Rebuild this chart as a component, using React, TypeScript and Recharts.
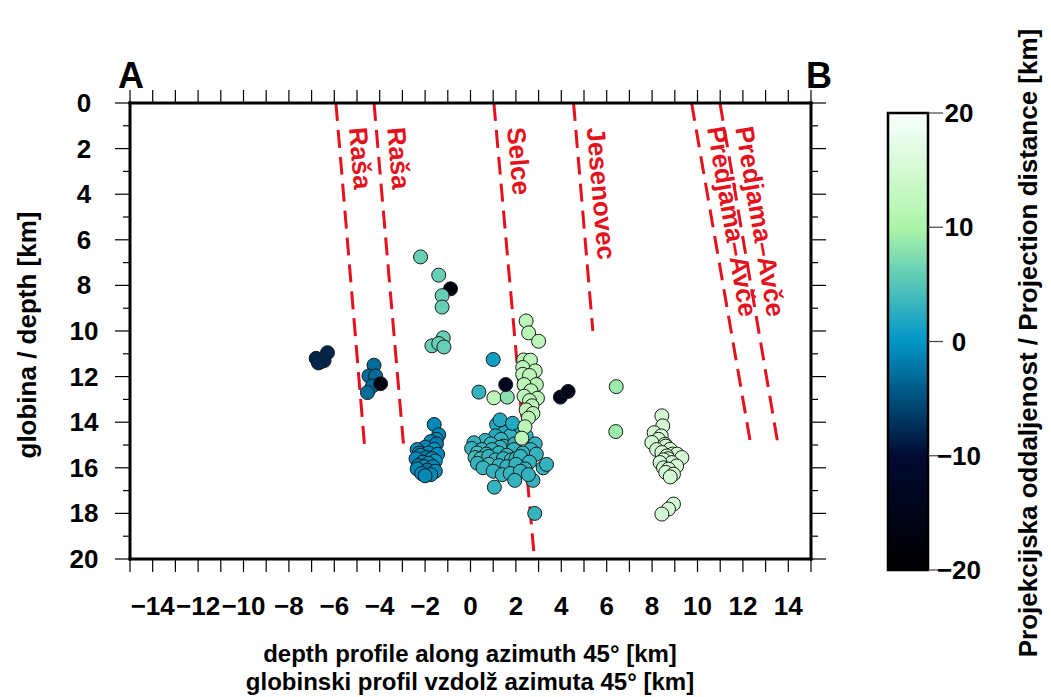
import React from 'react'
import { ScatterChart, Scatter, XAxis, YAxis, ReferenceLine } from 'recharts'

// [distance along profile (km), depth (km), projection distance (km)]
type Ev = [number, number, number]

const profileTicks = [
  -15, -14, -13, -12, -11, -10, -9, -8, -7, -6, -5, -4, -3, -2, -1, 0, 1, 2, 3,
  4, 5, 6, 7, 8, 9, 10, 11, 12, 13, 14, 15,
]
const depthTicks = [
  0, 1, 2, 3, 4, 5, 6, 7, 8, 9, 10, 11, 12, 13, 14, 15, 16, 17, 18, 19, 20,
]
const barTicks = [20, 10, 0, -10, -20]

const westCluster: Ev[] = [
  [-6.8, 11.2, -8], [-6.3, 10.95, -8], [-6.6, 11.35, -9], [-6.45, 11.3, -8], [-6.7, 11.4, -8],
]

const rasaCluster: Ev[] = [
  [-4.25, 11.5, -3], [-4.47, 11.97, -3], [-4.18, 11.97, -3], [-4.32, 12.41, -3],
  [-4.54, 12.7, -3], [-3.96, 12.31, -17],
]

const shallowEvents: Ev[] = [
  [-2.2, 6.75, 6], [-1.4, 7.55, 6], [-0.88, 8.15, -18], [-1.25, 8.45, 6], [-1.25, 8.95, 6],
  [-1.7, 10.65, 6], [-1.2, 10.3, 6], [-1.4, 10.55, 6], [-1.17, 10.7, 6],
]

const westDeep: Ev[] = [
  [-1.6, 14.1, -1], [-1.4, 14.55, -1], [-1.5, 14.75, -1], [-1.75, 14.85, -1], [-1.5, 14.95, -2],
  [-2.0, 15.1, -1], [-2.35, 15.2, -1], [-1.6, 15.2, 0], [-2.25, 15.35, -2], [-1.85, 15.35, -1],
  [-2.2, 15.45, -1], [-1.45, 15.4, -1], [-1.95, 15.55, -2], [-2.4, 15.6, -1], [-1.7, 15.6, -1],
  [-2.1, 15.75, -1], [-1.55, 15.7, 0], [-1.85, 15.8, -1], [-2.3, 15.9, -2], [-2.05, 15.95, -1],
  [-1.65, 15.95, -1], [-2.35, 16.05, -1], [-1.9, 16.1, -2], [-1.55, 16.15, -1], [-2.15, 16.25, -1],
  [-1.75, 16.3, -1], [-2.0, 16.35, -1],
]

const selceDeep: Ev[] = [
  [1.15, 14.1, 2], [1.6, 14.3, 2], [2.05, 14.4, 2], [1.5, 14.45, 2], [1.1, 14.6, 2],
  [1.75, 14.6, 3], [2.45, 14.6, 3], [1.35, 14.75, 3], [0.65, 14.8, 3], [0.15, 14.9, 3],
  [0.9, 14.95, 3], [1.45, 15.05, 3], [2.85, 14.95, 3], [1.95, 14.95, 3], [0.05, 15.15, 3],
  [0.5, 15.2, 3], [1.3, 15.1, 3], [1.9, 15.2, 3], [2.65, 15.2, 3], [0.3, 15.35, 4],
  [0.95, 15.2, 3], [1.25, 15.35, 3], [1.6, 15.45, 3], [2.3, 15.35, 3], [2.9, 15.4, 3],
  [0.7, 15.4, 3], [0.2, 15.55, 4], [0.45, 15.6, 4], [0.8, 15.5, 3], [1.1, 15.65, 3],
  [1.45, 15.6, 3], [1.8, 15.65, 4], [2.0, 15.6, 3], [2.2, 15.5, 3], [2.6, 15.75, 3],
  [3.2, 16.0, 3], [0.3, 15.8, 3], [0.8, 15.85, 4], [1.25, 15.9, 3], [1.6, 15.95, 3],
  [2.0, 15.85, 3], [2.4, 16.05, 3], [0.55, 16.0, 3], [1.0, 16.15, 3], [1.4, 16.3, 3],
  [1.75, 16.25, 3], [2.2, 16.15, 3], [1.95, 16.55, 3], [2.75, 16.55, 3], [1.05, 16.85, 3],
  [1.3, 13.9, 2], [1.85, 14.05, 2], [3.35, 15.85, 3], [2.55, 16.3, 3],
  [2.83, 18.0, 3],
]

const midEvents: Ev[] = [
  [1.0, 11.25, 1], [0.37, 12.68, 3], [1.03, 12.93, 12], [1.62, 12.9, 8], [2.71, 12.12, 1],
]

const selceColumn: Ev[] = [
  [2.45, 9.56, 12], [2.56, 10.08, 12], [3.0, 10.45, 12], [2.34, 11.27, 12], [2.64, 11.28, 12],
  [2.3, 11.6, 12], [2.85, 11.75, 12], [2.3, 11.9, 12], [2.6, 11.95, 12], [2.9, 12.35, 11],
  [2.36, 12.35, 12], [2.66, 12.62, 12], [2.36, 12.86, 12], [2.95, 12.95, 12], [2.6, 13.05, 12],
  [2.71, 13.28, 12], [2.45, 13.46, 12], [2.75, 13.62, 12], [2.55, 13.82, 12], [2.4, 14.2, 12],
  [2.26, 14.7, 12],
]

const avceDeep: Ev[] = [
  [6.42, 12.44, 9], [6.4, 14.41, 9],
  [8.43, 13.72, 15], [8.47, 14.16, 15], [8.09, 14.46, 15], [8.4, 14.6, 15], [8.28, 14.75, 15],
  [7.99, 14.89, 15], [8.57, 14.97, 15], [8.6, 15.05, 15], [8.2, 15.2, 15], [8.79, 15.19, 15],
  [8.43, 15.33, 15], [8.9, 15.4, 15], [9.1, 15.4, 15], [8.65, 15.48, 15], [9.31, 15.55, 15],
  [8.7, 15.6, 15], [8.5, 15.65, 15], [8.87, 15.77, 15], [8.35, 15.77, 15], [9.08, 15.92, 15],
  [8.5, 16.0, 15], [8.72, 16.06, 15], [8.6, 16.2, 15], [8.94, 16.28, 15], [8.8, 16.4, 15],
  [8.94, 17.59, 15], [8.72, 17.81, 15], [8.43, 18.03, 15],
]

const darkEvents: Ev[] = [
  [1.55, 12.35, -14], [3.96, 12.9, -15], [4.3, 12.65, -15],
]

const faults = [
  { name: 'Raša', top: -5.93, bottom: -4.67, depth: 15 },
  { name: 'Raša', top: -4.25, bottom: -2.95, depth: 15 },
  { name: 'Selce', top: 1.03, bottom: 2.8, depth: 19.8 },
  { name: 'Jesenovec', top: 4.54, bottom: 5.39, depth: 10 },
  { name: 'Predjama–Avče', top: 9.74, bottom: 12.35, depth: 15 },
  { name: 'Predjama–Avče', top: 10.99, bottom: 13.55, depth: 15 },
]

// GMT "ocean" palette stretched over -20..20 km
const ocean: [number, number[]][] = [
  [-20, [0, 0, 0]],
  [-15, [0, 5, 25]],
  [-10, [0, 10, 50]],
  [-5, [0, 80, 125]],
  [0, [0, 150, 200]],
  [5, [86, 197, 184]],
  [10, [172, 245, 168]],
  [15, [211, 250, 211]],
  [20, [250, 255, 255]],
]

const oceanColor = (v: number) => {
  for (let i = 0; i < ocean.length - 1; i++) {
    const [a, ca] = ocean[i]
    const [b, cb] = ocean[i + 1]
    if (v <= b || i === ocean.length - 2) {
      const t = Math.max(0, Math.min(1, (v - a) / (b - a)))
      const c = ca.map((k, j) => Math.round(k + (cb[j] - k) * t))
      return `rgb(${c[0]},${c[1]},${c[2]})`
    }
  }
  return '#000'
}

const toPoints = (list: Ev[]) =>
  list.map(([x, depth, dist]) => ({ x, depth, dist }))

const FONT = '"Liberation Sans", Arial, Helvetica, sans-serif'
const RED = '#e3121c'
const fmt = (v: number) => (v < 0 ? `\u2212${Math.abs(v)}` : String(v))

const Quake = (props: any) => {
  const { cx, cy, payload } = props
  if (cx == null || cy == null) return null
  return (
    <circle
      cx={cx}
      cy={cy}
      r={7}
      fill={oceanColor(payload.dist)}
      stroke="#1a1a1a"
      strokeWidth={1}
    />
  )
}

const BottomTick = (props: any) => {
  const { x, y, payload } = props
  const v = payload.value
  return (
    <g>
      <line x1={x} y1={y} x2={x} y2={y + 13} stroke="#000" strokeWidth={1.2} />
      {v % 2 === 0 && (
        <text x={x} y={y + 56} textAnchor="middle" fontSize={26} fontWeight="bold" fontFamily={FONT} fill="#000">
          {fmt(v)}
        </text>
      )}
    </g>
  )
}

const TopTick = (props: any) => {
  const { x, y } = props
  return <line x1={x} y1={y} x2={x} y2={y - 13} stroke="#000" strokeWidth={1.2} />
}

const LeftTick = (props: any) => {
  const { x, y, payload } = props
  const major = payload.value % 2 === 0
  return (
    <g>
      <line x1={x - (major ? 15 : 7)} y1={y} x2={x} y2={y} stroke="#000" strokeWidth={1.2} />
      {major && (
        <text x={x - 46} y={y + 9} textAnchor="middle" fontSize={26} fontWeight="bold" fontFamily={FONT} fill="#000">
          {payload.value}
        </text>
      )}
    </g>
  )
}

const RightTick = (props: any) => {
  const { x, y, payload } = props
  const major = payload.value % 2 === 0
  return <line x1={x} y1={y} x2={x + (major ? 15 : 7)} y2={y} stroke="#000" strokeWidth={1.2} />
}

// fault name written down the trace, just to the right of it
const FaultLabel = (props: any) => {
  const { viewBox, text } = props
  if (!viewBox) return null
  const { x, y, width, height } = viewBox
  const angle = (Math.atan2(height, width) * 180) / Math.PI
  const down = 25
  const lx = x + (width * down) / height + 11
  const ly = y + down
  return (
    <text
      transform={`translate(${lx},${ly}) rotate(${angle})`}
      fill={RED}
      fontSize={26}
      fontWeight="bold"
      fontFamily={FONT}
    >
      {text}
    </text>
  )
}

const frame = { stroke: '#000', strokeWidth: 3, strokeLinecap: 'square' as const }

const series = [
  westCluster,
  rasaCluster,
  shallowEvents,
  westDeep,
  selceDeep,
  midEvents,
  selceColumn,
  avceDeep,
  darkEvents,
]

export default function App() {
  const bar = { x: 888, y: 113, w: 40, h: 457 }
  const barY = (v: number) => bar.y + ((20 - v) / 40) * bar.h
  return (
    <div
      style={{
        position: 'absolute',
        left: 0,
        top: 0,
        width: 1051,
        height: 697,
        background: '#fff',
        fontFamily: FONT,
      }}
    >
      <ScatterChart
        width={1051}
        height={697}
        margin={{ top: 83, right: 220, bottom: 98, left: 70 }}
      >
        <XAxis
          xAxisId="bottom"
          dataKey="x"
          type="number"
          domain={[-15, 15]}
          ticks={profileTicks}
          interval={0}
          height={40}
          tickSize={0}
          tickMargin={0}
          tickLine={false}
          axisLine={frame}
          tick={BottomTick}
          allowDataOverflow
        />
        <XAxis
          xAxisId="top"
          orientation="top"
          dataKey="x"
          type="number"
          domain={[-15, 15]}
          ticks={profileTicks}
          interval={0}
          height={20}
          tickSize={0}
          tickMargin={0}
          tickLine={false}
          axisLine={frame}
          tick={TopTick}
          allowDataOverflow
        />
        <YAxis
          yAxisId="left"
          dataKey="depth"
          type="number"
          reversed
          domain={[0, 20]}
          ticks={depthTicks}
          interval={0}
          width={60}
          tickSize={0}
          tickMargin={0}
          tickLine={false}
          axisLine={frame}
          tick={LeftTick}
          allowDataOverflow
        />
        <YAxis
          yAxisId="right"
          orientation="right"
          dataKey="depth"
          type="number"
          reversed
          domain={[0, 20]}
          ticks={depthTicks}
          interval={0}
          width={20}
          tickSize={0}
          tickMargin={0}
          tickLine={false}
          axisLine={frame}
          tick={RightTick}
          allowDataOverflow
        />
        {series.map((list, i) => (
          <Scatter
            key={i}
            xAxisId="bottom"
            yAxisId="left"
            data={toPoints(list)}
            shape={Quake}
            isAnimationActive={false}
          />
        ))}
        {faults.map((f, i) => (
          <ReferenceLine
            key={i}
            xAxisId="bottom"
            yAxisId="left"
            segment={[
              { x: f.top, y: 0 },
              { x: f.bottom, y: f.depth },
            ]}
            stroke={RED}
            strokeWidth={3}
            strokeDasharray="18 9"
            ifOverflow="visible"
            label={<FaultLabel text={f.name} />}
          />
        ))}
      </ScatterChart>

      <svg
        width={1051}
        height={697}
        style={{ position: 'absolute', left: 0, top: 0, pointerEvents: 'none' }}
        fontFamily={FONT}
        fontWeight="bold"
      >
        <defs>
          <linearGradient id="oceanBar" x1="0" y1="0" x2="0" y2="1">
            {[...ocean].reverse().map(([v]) => (
              <stop key={v} offset={`${((20 - v) / 40) * 100}%`} stopColor={oceanColor(v)} />
            ))}
          </linearGradient>
        </defs>
        <text x={131} y={88} fontSize={36} textAnchor="middle">A</text>
        <text x={819} y={88} fontSize={36} textAnchor="middle">B</text>

        <text transform="translate(36,335) rotate(-90)" fontSize={26} textAnchor="middle">
          globina / depth [km]
        </text>
        <text x={470} y={662} fontSize={24} textAnchor="middle">
          depth profile along azimuth 45° [km]
        </text>
        <text x={470} y={690} fontSize={24} textAnchor="middle">
          globinski profil vzdolž azimuta 45° [km]
        </text>

        <rect x={bar.x} y={bar.y} width={bar.w} height={bar.h} fill="url(#oceanBar)" stroke="#000" strokeWidth={2.5} />
        {barTicks.map((v) => (
          <g key={v}>
            <line x1={bar.x + bar.w} y1={barY(v)} x2={bar.x + bar.w + 15} y2={barY(v)} stroke="#444" strokeWidth={1.2} />
            <text x={959} y={barY(v) + 9} fontSize={26} textAnchor="middle">
              {fmt(v)}
            </text>
          </g>
        ))}
        <text transform="translate(1037,343) rotate(-90)" fontSize={26} textAnchor="middle">
          Projekcijska oddaljenost / Projection distance [km]
        </text>
      </svg>
    </div>
  )
}
